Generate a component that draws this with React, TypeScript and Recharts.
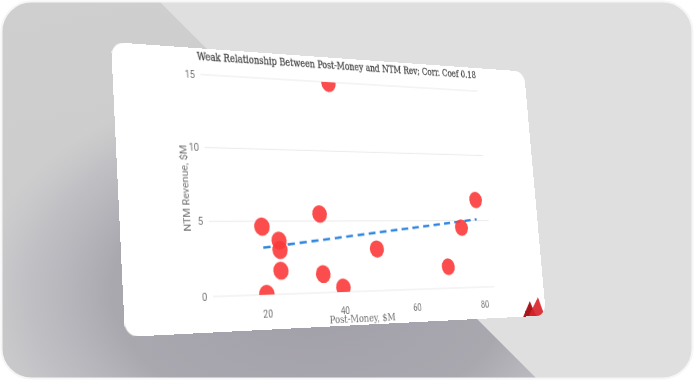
import React from 'react';
import { ScatterChart, Scatter, XAxis, YAxis, CartesianGrid, Label } from 'recharts';

// ---- data ----
const postMoney = [19.8, 23.9, 24.0, 23.9, 20.0, 34.9, 34.8, 39.9, 49.8, 69.9, 74.8, 79.8, 39.7];
const ntmRevenue = [4.63, 3.66, 3.02, 1.6, 0.04, 5.5, 1.29, 0.32, 2.98, 1.58, 4.47, 6.57, 14.9];
const trendX = [19.8, 79.6];
const trendY = [3.19, 5.1];
const xTicks = [20, 40, 60, 80];
const yTicks = [0, 5, 10, 15];
const xDomain = [6.8, 83.3];
const yDomain = [0, 15];
const chartTitle = 'Weak Relationship Between Post-Money and NTM Rev; Corr. Coef 0.18';
const xTitle = 'Post-Money, $M';
const yTitle = 'NTM Revenue, $M';

const points = postMoney.map((x, i) => ({ x, y: ntmRevenue[i] }));
const trend = trendX.map((x, i) => ({ x, y: trendY[i] }));

// ---- card geometry (flat) and its projected corners on screen ----
const W = 540;
const H = 285;
const quad = [
  [111, 42],
  [524, 71.5],
  [546, 315.5],
  [125, 337],
];

function solve(A: number[][], b: number[]): number[] {
  const n = b.length;
  const M = A.map((r, i) => [...r, b[i]]);
  for (let c = 0; c < n; c++) {
    let p = c;
    for (let r = c + 1; r < n; r++) if (Math.abs(M[r][c]) > Math.abs(M[p][c])) p = r;
    const tmp = M[c];
    M[c] = M[p];
    M[p] = tmp;
    for (let r = 0; r < n; r++) {
      if (r === c) continue;
      const f = M[r][c] / M[c][c];
      for (let k = c; k <= n; k++) M[r][k] -= f * M[c][k];
    }
  }
  return M.map((r, i) => r[n] / r[i]);
}

function perspective(src: number[][], dst: number[][]): string {
  const A: number[][] = [];
  const b: number[] = [];
  for (let i = 0; i < 4; i++) {
    const [x, y] = src[i];
    const [X, Y] = dst[i];
    A.push([x, y, 1, 0, 0, 0, -X * x, -X * y]);
    b.push(X);
    A.push([0, 0, 0, x, y, 1, -Y * x, -Y * y]);
    b.push(Y);
  }
  const h = solve(A, b);
  return `matrix3d(${h[0]},${h[3]},0,${h[6]},${h[1]},${h[4]},0,${h[7]},0,0,1,0,${h[2]},${h[5]},0,1)`;
}

const cardTransform = perspective(
  [
    [0, 0],
    [W, 0],
    [W, H],
    [0, H],
  ],
  quad
);

const tickStyle = { fill: '#727272', fontSize: 10.5, fontFamily: 'Roboto' };

const Dot = (p: any) => (
  <circle cx={p.cx} cy={p.cy} r={9.3} fill="#fb3a3a" fillOpacity={0.9} />
);
const NoDot = () => <g />;

const XTitle = (p: any) => {
  const vb = p.viewBox || { x: 0, y: 0, width: 0, height: 0 };
  return (
    <text
      x={vb.x + vb.width / 2 - 2}
      y={vb.y + vb.height - 3}
      textAnchor="middle"
      fontFamily="'DejaVu Serif'"
      fontSize={11}
      fill="#707070"
      textLength={86}
      lengthAdjust="spacingAndGlyphs"
    >
      {xTitle}
    </text>
  );
};

const YTitle = (p: any) => {
  const vb = p.viewBox || { x: 0, y: 0, width: 0, height: 0 };
  const cx = vb.x + 74;
  const cy = vb.y + vb.height / 2 + 4;
  return (
    <text
      x={cx}
      y={cy}
      transform={`rotate(-90 ${cx} ${cy})`}
      textAnchor="middle"
      dominantBaseline="central"
      fontFamily="Roboto"
      fontSize={10.5}
      fill="#727272"
      textLength={86}
      lengthAdjust="spacingAndGlyphs"
    >
      {yTitle}
    </text>
  );
};

export default function App() {
  return (
    <div style={{ position: 'absolute', left: 0, top: 0, width: 694, height: 380, overflow: 'hidden', background: '#fff' }}>
      <svg width={694} height={380} style={{ position: 'absolute', left: 0, top: 0 }}>
        <defs>
          <clipPath id="bgclip">
            <rect x={1.5} y={1.5} width={691} height={377} rx={30} />
          </clipPath>
          <clipPath id="leftclip">
            <polygon points="0,0 158,0 538,380 0,380" />
          </clipPath>
          <linearGradient id="leftg" x1="0" y1="0" x2="0.3" y2="1">
            <stop offset="0" stopColor="#cfcfcf" />
            <stop offset="1" stopColor="#cacacc" />
          </linearGradient>
          <radialGradient
            id="shadowg"
            cx="310"
            cy="290"
            r="330"
            gradientUnits="userSpaceOnUse"
            gradientTransform="translate(310 290) scale(1 0.65) translate(-310 -290)"
          >
            <stop offset="0" stopColor="#96939f" stopOpacity="0.8" />
            <stop offset="0.6" stopColor="#98959f" stopOpacity="0.65" />
            <stop offset="0.85" stopColor="#a4a2ad" stopOpacity="0.3" />
            <stop offset="1" stopColor="#b0aeb8" stopOpacity="0" />
          </radialGradient>
        </defs>
        <g clipPath="url(#bgclip)">
          <rect x={0} y={0} width={694} height={380} fill="#dfdfdf" />
          <polygon points="0,0 158,0 538,380 0,380" fill="url(#leftg)" />
          <g clipPath="url(#leftclip)">
            <rect x={0} y={0} width={694} height={380} fill="url(#shadowg)" />
          </g>
        </g>
        <rect x={1.5} y={1.5} width={691} height={377} rx={30} fill="none" stroke="#f6f6f6" strokeWidth={2} />
      </svg>
      <div
        style={{
          position: 'absolute',
          left: 0,
          top: 0,
          width: W,
          height: H,
          background: '#ffffff',
          borderRadius: 14,
          overflow: 'hidden',
          transformOrigin: '0 0',
          transform: cardTransform,
        }}
      >
        <ScatterChart width={W} height={H} margin={{ top: 27, right: 74.5, bottom: 0, left: 0 }}>
          <CartesianGrid horizontal vertical={false} stroke="#e9e9e9" />
          <XAxis
            type="number"
            dataKey="x"
            domain={xDomain}
            ticks={xTicks}
            allowDataOverflow
            axisLine={false}
            tickLine={false}
            tickSize={0}
            tickMargin={15.5}
            height={35}
            tick={tickStyle}
          >
            <Label content={<XTitle />} />
          </XAxis>
          <YAxis
            type="number"
            dataKey="y"
            domain={yDomain}
            ticks={yTicks}
            allowDataOverflow
            axisLine={false}
            tickLine={false}
            tickSize={0}
            tickMargin={6.5}
            width={99}
            tick={tickStyle}
          >
            <Label content={<YTitle />} />
          </YAxis>
          <Scatter
            data={trend}
            shape={<NoDot />}
            line={{ stroke: '#2f86e0', strokeWidth: 2.6, strokeDasharray: '9 6' }}
            isAnimationActive={false}
          />
          <Scatter data={points} shape={<Dot />} isAnimationActive={false} />
        </ScatterChart>
        <svg width={W} height={H} style={{ position: 'absolute', left: 0, top: 0, pointerEvents: 'none' }}>
          <text
            x={96}
            y={12.5}
            fontFamily="'DejaVu Serif'"
            fontSize={11}
            fill="#444444"
            stroke="#444444"
            strokeWidth={0.25}
            textLength={369}
            lengthAdjust="spacingAndGlyphs"
          >
            {chartTitle}
          </text>
          <polygon points="505,285 517,268 525,285" fill="#a8161c" />
          <polygon points="513,285 530,264 538,285" fill="#d9252b" fillOpacity={0.92} />
        </svg>
      </div>
    </div>
  );
}
